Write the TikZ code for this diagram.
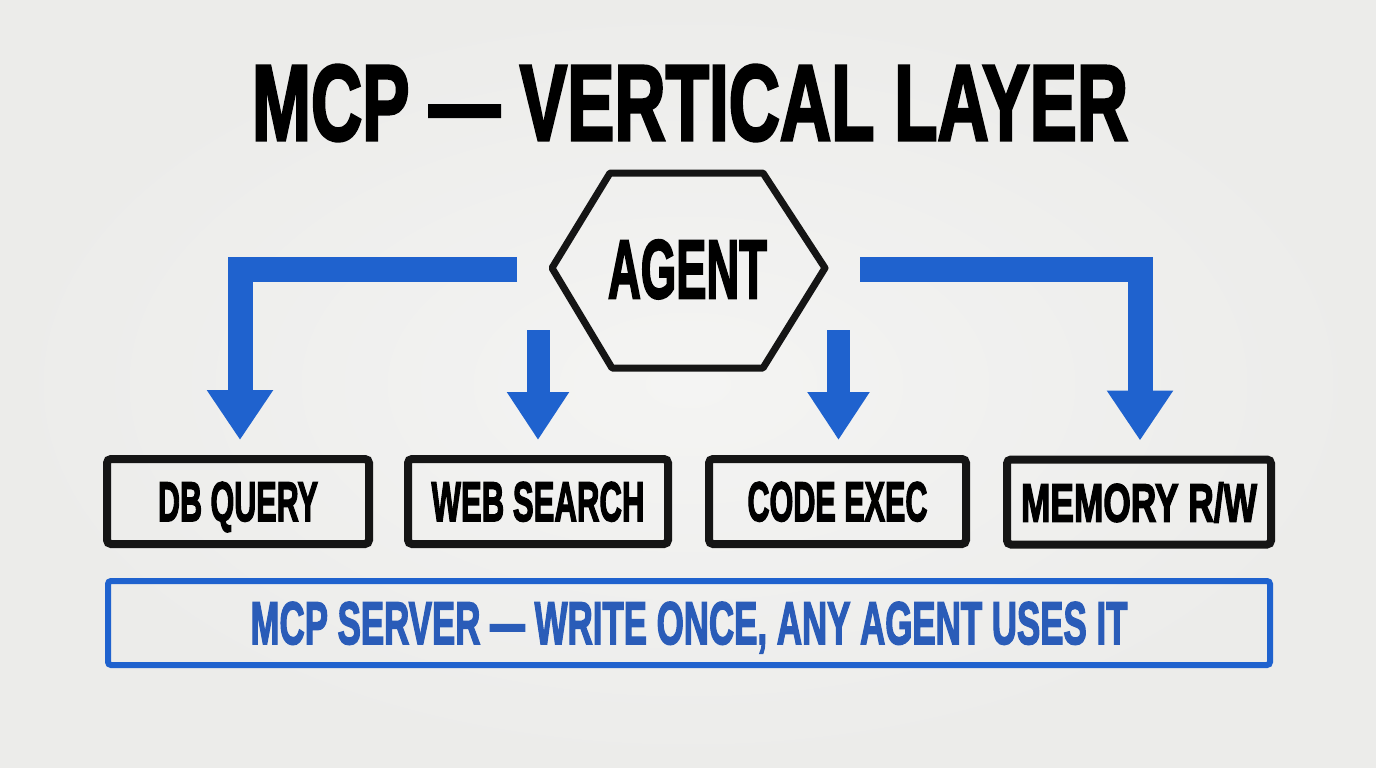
\documentclass[tikz,border=0pt]{standalone}
\usepackage{fontspec}
\usepackage{graphicx}
\usetikzlibrary{arrows.meta,calc}
\newfontfamily\heavy{Liberation Sans}[UprightFont={* Bold}, FakeBold=3]
\definecolor{board}{HTML}{EFEFED}
\definecolor{boardin}{HTML}{F4F4F3}
\definecolor{boardout}{HTML}{ECECEA}
\definecolor{marker}{HTML}{1F62CE}
\definecolor{servertext}{HTML}{2A5CB8}
\definecolor{ink}{HTML}{151515}
\begin{document}
\begin{tikzpicture}[x=1pt,y=-1pt,
  toolbox/.style={draw=ink, line width=8pt, rounded corners=4pt, minimum height=85pt,
    inner sep=0pt, text height=39pt, text depth=0pt},
  barrow/.style={draw=marker, line width=25pt, line join=miter, line cap=butt,
    -{Triangle[width=63pt,length=50pt]}},
  sarrow/.style={draw=marker, line width=23pt, line cap=butt,
    -{Triangle[width=59pt,length=48pt]}},
  label/.style={inner sep=0pt, anchor=base}
]
\fill[board] (0,0) rectangle (1376,768);
\shade[inner color=boardin, outer color=boardout] (0,0) rectangle (1376,768);
\useasboundingbox (0,0) rectangle (1376,768);

% title
\node[label] (title) at (690,140) {\resizebox{876pt}{75pt}{\heavy MCP — VERTICAL LAYER}};

% agent
\node[inner sep=0pt, text height=58pt, text depth=0pt] (agent) at (687.5,269)
  {\resizebox{159pt}{58pt}{\heavy AGENT}};
\draw[ink, line width=7pt, line join=round]
  ($(agent)+(-77.5,-96)$) -- ($(agent)+(75.5,-96)$) -- ($(agent)+(137.5,-1)$)
  -- ($(agent)+(75.5,99)$) -- ($(agent)+(-75.5,99)$) -- ($(agent)+(-135.5,-1)$) -- cycle;

% tool boxes
\node[toolbox, minimum width=262pt] (db)   at (238,501.5)  {\resizebox{160pt}{39pt}{\heavy DB QUERY}};
\node[toolbox, minimum width=260pt] (web)  at (538,501.5)  {\resizebox{213pt}{39pt}{\heavy WEB SEARCH}};
\node[toolbox, minimum width=257pt] (code) at (837.5,501.5){\resizebox{180pt}{39pt}{\heavy CODE EXEC}};
\node[toolbox, minimum width=264pt] (mem)  at (1139,502)   {\resizebox{236pt}{39pt}{\heavy MEMORY R/W}};

% server bar
\node[draw=marker, line width=6pt, rounded corners=3pt, minimum width=1162pt, minimum height=84pt,
  inner sep=0pt, text height=42pt, text depth=0pt, text=servertext] (server) at (689,623)
  {\resizebox{877pt}{42pt}{\heavy MCP SERVER — WRITE ONCE, ANY AGENT USES IT}};

% arrows
\coordinate (lstart) at (517,269.5);
\coordinate (rstart) at (860,269.5);
\draw[barrow] (lstart) -| ($(db.north)+(2,-15)$);
\draw[barrow] (rstart) -| ($(mem.north)+(1,-15)$);
\draw[sarrow] ($(web.north)+(0,-125)$) -- ($(web.north)+(0,-15)$);
\draw[sarrow] ($(code.north)+(1,-125)$) -- ($(code.north)+(1,-15)$);
\end{tikzpicture}
\end{document}
